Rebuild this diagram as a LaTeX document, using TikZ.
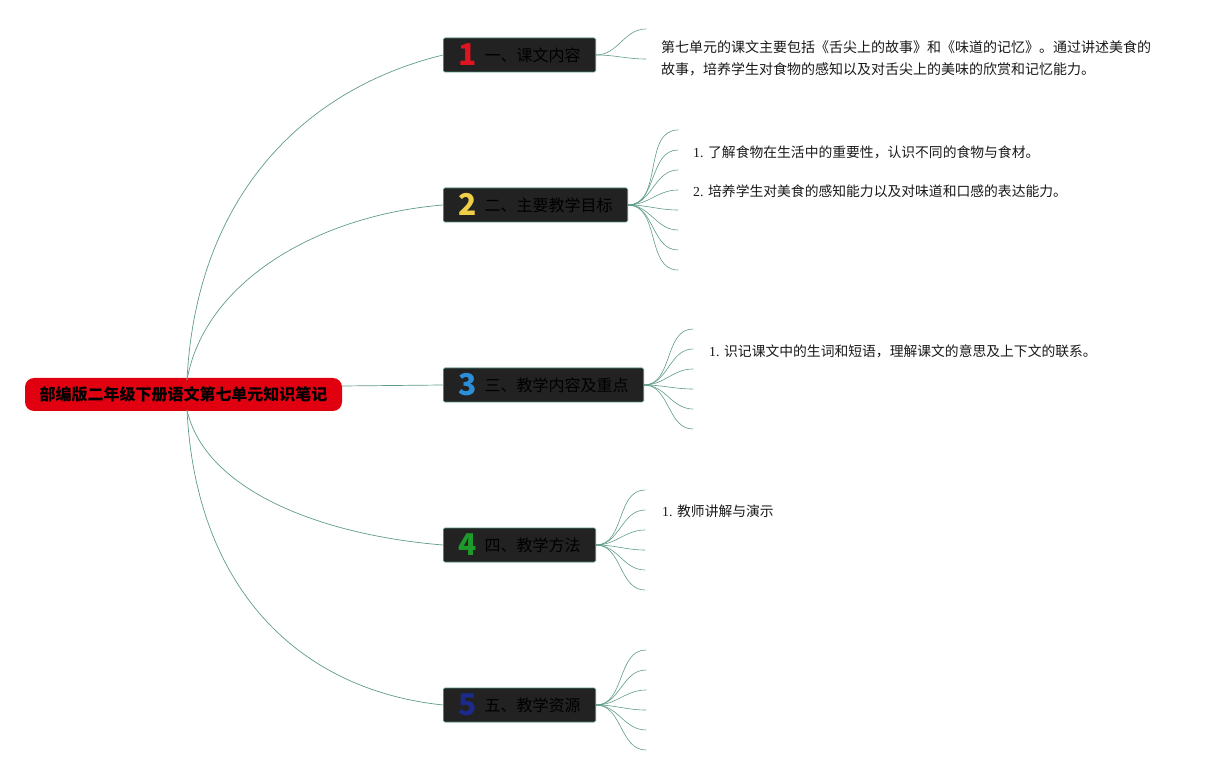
\documentclass[tikz,border=0pt]{standalone}
\usepackage{fontspec}
\setmainfont{Liberation Serif}
\newfontfamily\cjk{Noto Sans CJK SC}
\usetikzlibrary{positioning}
\definecolor{rootred}{HTML}{E1000F}
\definecolor{boxfill}{HTML}{222222}
\definecolor{boxline}{HTML}{4F8A78}
\definecolor{branch}{HTML}{5E9C86}
\definecolor{numa}{HTML}{E0141E}
\definecolor{numb}{HTML}{F0CF48}
\definecolor{numc}{HTML}{2A8FD8}
\definecolor{numd}{HTML}{1E9A2C}
\definecolor{nume}{HTML}{1C2A8C}
\newcommand{\secnum}[2]{\smash{\raisebox{-4pt}{\textcolor{#1}{\fontsize{30}{30}\selectfont\bfseries #2}}}\hspace{8pt}}
\begin{document}
\begin{tikzpicture}[x=1pt,y=-1pt, line join=round, line cap=round,
    rootbox/.style={fill=rootred, rounded corners=9pt, minimum width=317pt, minimum height=33pt, inner sep=0pt, font=\cjk\fontsize{16}{18}\selectfont\bfseries, text=black},
    secbox/.style={fill=boxfill, draw=boxline, line width=0.8pt, rounded corners=1.5pt, anchor=west, minimum height=34pt, inner ysep=0pt, inner xsep=15pt, font=\cjk\fontsize{16}{18}\selectfont, text=black},
    link/.style={draw=branch, line width=0.7pt},
    leaf/.style={draw=branch, line width=0.6pt},
    item/.style={anchor=west, inner sep=0pt, font=\fontsize{13.8}{16}\selectfont, text=black!90}]
    \useasboundingbox (0,0) rectangle (1221,775);
    \node[rootbox] (root) at (183.5,394.5) {部编版二年级下册语文第七单元知识笔记};
    \node[secbox] (s1) at (443,55) {\secnum{numa}{1}一、课文内容};
    \node[secbox] (s2) at (443,205) {\secnum{numb}{2}二、主要教学目标};
    \node[secbox] (s3) at (443,385) {\secnum{numc}{3}三、教学内容及重点};
    \node[secbox] (s4) at (443,545) {\secnum{numd}{4}四、教学方法};
    \node[secbox] (s5) at (443,705) {\secnum{nume}{5}五、教学资源};
    \coordinate (rt) at (187,380);
    \coordinate (rb) at (187,410);
    \coordinate (rm) at (342,386);
    \draw[link] (rt) .. controls (196,200) and (300,90) .. (s1.west);
    \draw[link] (rt) .. controls (205,280) and (320,215) .. (s2.west);
    \draw[link] (rm) -- (s3.west);
    \draw[link] (rb) .. controls (205,490) and (320,535) .. (s4.west);
    \draw[link] (rb) .. controls (196,590) and (300,690) .. (s5.west);
    \foreach \yy [count=\i] in {29,59}{
        \coordinate (a\i) at (646,\yy);
        \draw[leaf] (s1.east) to[out=0,in=180] (a\i);}
    \foreach \yy [count=\i] in {130,150,...,270}{
        \coordinate (b\i) at (678,\yy);
        \draw[leaf] (s2.east) to[out=0,in=180] (b\i);}
    \foreach \yy [count=\i] in {329,349,...,429}{
        \coordinate (c\i) at (693,\yy);
        \draw[leaf] (s3.east) to[out=0,in=180] (c\i);}
    \foreach \yy [count=\i] in {490,510,...,590}{
        \coordinate (d\i) at (645,\yy);
        \draw[leaf] (s4.east) to[out=0,in=180] (d\i);}
    \foreach \yy [count=\i] in {650,670,...,750}{
        \coordinate (e\i) at (646,\yy);
        \draw[leaf] (s5.east) to[out=0,in=180] (e\i);}
    \node[item, anchor=north west, align=left, font=\cjk\fontsize{14}{22}\selectfont] (t1) at (661,40) {第七单元的课文主要包括《舌尖上的故事》和《味道的记忆》。通过讲述美食的\\故事，培养学生对食物的感知以及对舌尖上的美味的欣赏和记忆能力。};
    \node[item] (t2a) at (693,152) {1. {\cjk 了解食物在生活中的重要性，认识不同的食物与食材。}};
    \node[item] (t2b) at (693,191) {2. {\cjk 培养学生对美食的感知能力以及对味道和口感的表达能力。}};
    \node[item] (t3a) at (709,351) {1. {\cjk 识记课文中的生词和短语，理解课文的意思及上下文的联系。}};
    \node[item] (t4a) at (662,511) {1. {\cjk 教师讲解与演示}};
\end{tikzpicture}
\end{document}
